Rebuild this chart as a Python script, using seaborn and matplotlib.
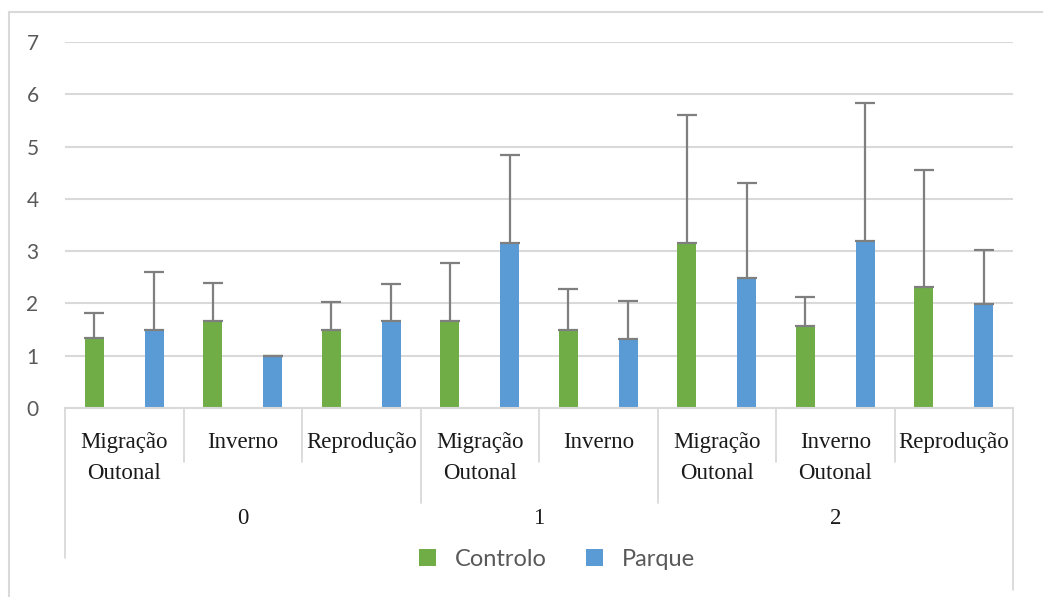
import matplotlib
matplotlib.use("Agg")
import matplotlib.pyplot as plt
from matplotlib.lines import Line2D
import matplotlib.transforms as mtransforms
import seaborn as sns
import pandas as pd

# ---- data ----
groups = ["0", "0", "0", "1", "1", "2", "2", "2"]
categories = ["Migração\nOutonal", "Inverno", "Reprodução",
              "Migração\nOutonal", "Inverno",
              "Migração\nOutonal", "Inverno\nOutonal", "Reprodução"]
controlo = [1.33, 1.66, 1.49, 1.66, 1.49, 3.15, 1.57, 2.32]
controlo_err = [0.49, 0.73, 0.53, 1.11, 0.78, 2.46, 0.55, 2.23]
parque = [1.49, 1.00, 1.66, 3.15, 1.32, 2.48, 3.19, 1.99]
parque_err = [1.12, 0.00, 0.72, 1.69, 0.73, 1.82, 2.64, 1.03]
series = ["Controlo", "Parque"]
colors = ["#70AD47", "#5B9BD5"]

keys = [f"{g}|{i}" for i, g in enumerate(groups)]
df = pd.DataFrame({
    "key": keys * 2,
    "value": controlo + parque,
    "series": [series[0]] * len(keys) + [series[1]] * len(keys),
})
errs = {series[0]: controlo_err, series[1]: parque_err}

sns.set_style("white")
plt.rcParams["font.family"] = ["Lato", "DejaVu Sans"]

W, H = 1043, 597
fig = plt.figure(figsize=(W / 100, H / 100), dpi=100)
ax = fig.add_axes([65 / W, 1 - 408 / H, (1013 - 65) / W, (408 - 42) / H])

sns.barplot(data=df, x="key", y="value", hue="series", order=keys,
            hue_order=series, palette=colors, width=1.01, gap=0.68,
            errorbar=None, ax=ax, saturation=1, linewidth=0)

# error bars (plus only)
for cont, s in zip(ax.containers, series):
    for bar, e in zip(cont, errs[s]):
        cx = bar.get_x() + bar.get_width() / 2
        h = bar.get_height()
        ax.errorbar([cx], [h], yerr=[[0], [e]], fmt="none", ecolor="#7F7F7F",
                    elinewidth=1.6, capsize=7.5, capthick=1.6, zorder=5)

ax.set_xlim(-0.5, len(keys) - 0.5)
ax.set_ylim(0, 7)
ax.set_yticks(range(0, 8))
ax.yaxis.grid(True, color="#D9D9D9", linewidth=1.5)
ax.set_axisbelow(True)
for sp in ["top", "right", "left"]:
    ax.spines[sp].set_visible(False)
ax.spines["bottom"].set_color("#D9D9D9")
ax.spines["bottom"].set_linewidth(1.5)
ax.tick_params(axis="y", length=0, pad=19, labelsize=15, labelcolor="#595959")
ax.tick_params(axis="x", length=0)
ax.set_xticklabels([])
ax.set_xlabel("")
ax.set_ylabel("")

leg = ax.get_legend()
handles = leg.legend_handles
leg.remove()

# multi-level category axis
trans = mtransforms.blended_transform_factory(ax.transData, ax.transAxes)
ppx = (408 - 42)  # axes height in px
def ay(py):
    return (408 - py) / ppx

serif = ["Liberation Serif", "DejaVu Serif"]
for i, c in enumerate(categories):
    ax.text(i, ay(432), c, transform=trans, ha="center", va="top",
            fontsize=16.5, family=serif, color="#1A1A1A", linespacing=1.65,
            clip_on=False)

bounds = [-0.5] + [i + 0.5 for i in range(len(keys) - 1)] + [len(keys) - 0.5]
for j, b in enumerate(bounds):
    if j == 0:
        bottom = 558
    elif j == len(bounds) - 1:
        bottom = 590
    elif groups[j - 1] != groups[j]:
        bottom = 503
    else:
        bottom = 462
    ax.add_line(Line2D([b, b], [0, ay(bottom)], transform=trans, color="#D9D9D9",
                       linewidth=1.3, clip_on=False))

uniq = []
for g in groups:
    if g not in uniq:
        uniq.append(g)
for g in uniq:
    idx = [i for i, gg in enumerate(groups) if gg == g]
    xc = sum(idx) / len(idx)
    ax.text(xc, ay(518), g, transform=trans, ha="center", va="center",
            fontsize=16.5, family=serif, color="#1A1A1A", clip_on=False)

fig.legend(handles, series, loc="center", bbox_to_anchor=(557 / W, 1 - 559 / H),
           ncol=2, frameon=False, fontsize=17, handlelength=0.7, handleheight=0.7,
           handletextpad=0.8, columnspacing=1.7, labelcolor="#595959")

# chart area border
fig.add_artist(Line2D([9 / W, 1.0], [1 - 12 / H, 1 - 12 / H], transform=fig.transFigure,
                      color="#D9D9D9", linewidth=1.5))
fig.add_artist(Line2D([9 / W, 9 / W], [0, 1 - 12 / H], transform=fig.transFigure,
                      color="#D9D9D9", linewidth=1.5))

fig.savefig("out.png", dpi=100, facecolor="white")
